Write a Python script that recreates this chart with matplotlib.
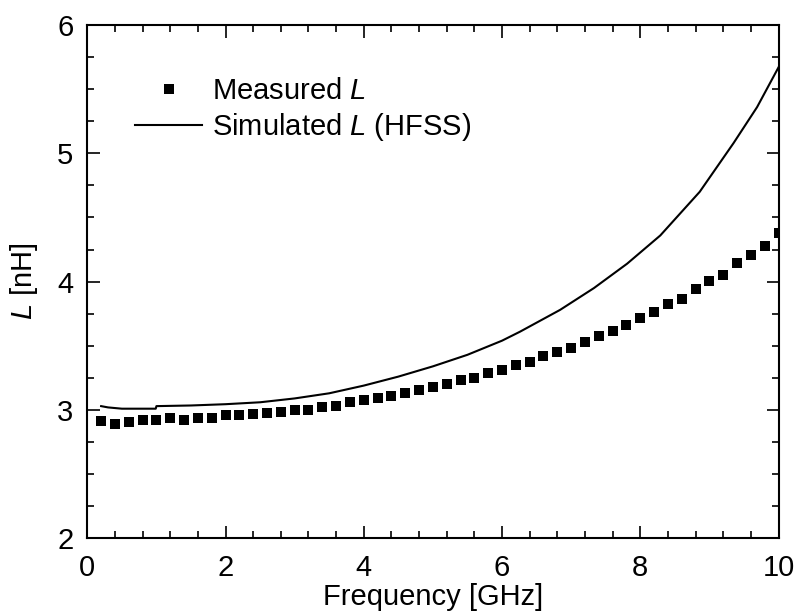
import matplotlib
matplotlib.use("Agg")
from matplotlib import pyplot as plt
from matplotlib.ticker import MultipleLocator

# ──────────────────────────────────────────────
# Data
# ──────────────────────────────────────────────
meas_freq = [0.2, 0.4, 0.6, 0.8, 1.0, 1.2, 1.4, 1.6, 1.8, 2.0,
             2.2, 2.4, 2.6, 2.8, 3.0, 3.2, 3.4, 3.6, 3.8, 4.0,
             4.2, 4.4, 4.6, 4.8, 5.0, 5.2, 5.4, 5.6, 5.8, 6.0,
             6.2, 6.4, 6.6, 6.8, 7.0, 7.2, 7.4, 7.6, 7.8, 8.0,
             8.2, 8.4, 8.6, 8.8, 9.0, 9.2, 9.4, 9.6, 9.8, 10.0]
meas_L = [2.914, 2.894, 2.910, 2.925, 2.920, 2.940, 2.925, 2.940, 2.940, 2.959,
          2.959, 2.969, 2.974, 2.982, 2.998, 3.003, 3.026, 3.034, 3.060, 3.076,
          3.094, 3.112, 3.133, 3.154, 3.180, 3.206, 3.232, 3.253, 3.289, 3.315,
          3.351, 3.374, 3.418, 3.452, 3.486, 3.530, 3.574, 3.616, 3.666, 3.717,
          3.761, 3.826, 3.865, 3.940, 4.005, 4.050, 4.146, 4.210, 4.281, 4.382]

sim_freq = [0.2, 0.3, 0.5, 0.8, 0.99, 1.0, 1.5, 2.0, 2.5, 3.0, 3.5, 4.0,
            4.5, 5.0, 5.5, 6.0, 6.26, 6.84, 7.33, 7.81, 8.29, 8.86,
            9.35, 9.69, 10.0]
sim_L = [3.03, 3.02, 3.01, 3.01, 3.01, 3.03, 3.035, 3.045, 3.06, 3.09, 3.13, 3.19,
         3.26, 3.34, 3.43, 3.54, 3.61, 3.78, 3.95, 4.14, 4.36, 4.70,
         5.08, 5.36, 5.67]

FONT = "Liberation Sans"
FS = 21

plt.rcParams["font.family"] = [FONT, "DejaVu Sans"]
plt.rcParams["mathtext.fontset"] = "custom"
plt.rcParams["mathtext.rm"] = FONT
plt.rcParams["mathtext.it"] = FONT + ":italic"
plt.rcParams["font.size"] = FS

fig = plt.figure(figsize=(8.0, 6.13), dpi=100)
W, H = 800, 613
x0, x1, y0, y1 = 87.3, 778.5, 538.3, 25.0
ax = fig.add_axes([x0 / W, 1 - y0 / H, (x1 - x0) / W, (y0 - y1) / H])

ax.plot(meas_freq, meas_L, ls="none", marker="s", ms=7.3, mew=0,
        color="black", label=r"Measured $L$")
ax.plot(sim_freq, sim_L, color="black", lw=1.5, label=r"Simulated $L$ (HFSS)")

ax.set_xlim(0, 10)
ax.set_ylim(2, 6)
ax.xaxis.set_major_locator(MultipleLocator(2))
ax.xaxis.set_minor_locator(MultipleLocator(0.4))
ax.yaxis.set_major_locator(MultipleLocator(1))
ax.yaxis.set_minor_locator(MultipleLocator(0.25))

ax.tick_params(which="both", direction="in", top=True, right=True, width=1.2)
ax.tick_params(which="major", length=9, labelsize=FS)
ax.tick_params(which="minor", length=5)
ax.tick_params(axis="x", which="major", pad=11)
ax.tick_params(axis="y", which="major", pad=10)
for sp in ax.spines.values():
    sp.set_linewidth(1.5)

ax.set_xlabel("Frequency [GHz]", fontsize=FS, labelpad=1)
ax.set_ylabel(r"$L$ [nH]", fontsize=FS, labelpad=12)

ax.legend(loc="upper left", bbox_to_anchor=(0.069, 0.898), frameon=False,
          fontsize=FS, handlelength=2.3, handletextpad=0.35, numpoints=1,
          borderaxespad=0, borderpad=0, labelspacing=0.19)

fig.savefig("out.png", dpi=100)
